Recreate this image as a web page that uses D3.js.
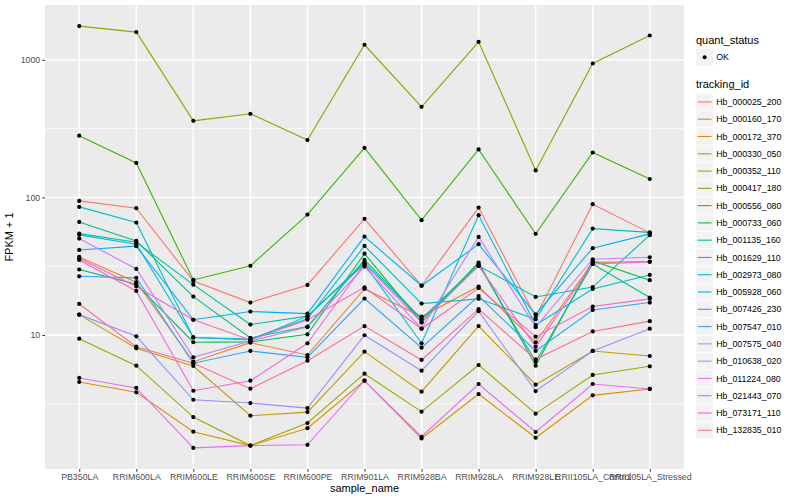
<!DOCTYPE html>
<html>
<head>
<meta charset="utf-8">
<script src="https://cdnjs.cloudflare.com/ajax/libs/d3/7.8.5/d3.min.js"></script>
<style>
  body { margin: 0; background: #fff; }
  svg { font-family: 'Liberation Sans', Arial, sans-serif; }
</style>
</head>
<body>
<svg id="chart" width="800" height="500"></svg>
<script>
'use strict';

var samples = ['PB350LA', 'RRIM600LA', 'RRIM600LE', 'RRIM600SE', 'RRIM600PE', 'RRIM901LA',
    'RRIM928BA', 'RRIM928LA', 'RRIM928LE', 'RRII105LA_Control', 'RRII105LA_Stressed'];

var trackingIds = ['Hb_000025_200', 'Hb_000160_170', 'Hb_000172_370', 'Hb_000330_050', 'Hb_000352_110',
    'Hb_000417_180', 'Hb_000556_080', 'Hb_000733_060', 'Hb_001135_160', 'Hb_001629_110',
    'Hb_002973_080', 'Hb_005928_060', 'Hb_007426_230', 'Hb_007547_010', 'Hb_007575_040',
    'Hb_010638_020', 'Hb_011224_080', 'Hb_021443_070', 'Hb_073171_110', 'Hb_132835_010'];

// FPKM + 1, one row per tracking_id, one value per sample
var fpkm = [
    [94.3, 83.4, 24.7, 17.2, 23.1, 69.8, 22.8, 84.3, 13.5, 89.2, 55.2],
    [36.9, 24.2, 6.39, 8.79, 7.15, 21.6, 13.6, 22.5, 8.85, 33.7, 34.1],
    [4.55, 3.83, 1.98, 1.57, 2.10, 4.65, 1.77, 3.72, 1.79, 3.64, 4.05],
    [14.05, 8.0, 5.95, 2.59, 2.75, 7.56, 3.87, 11.6, 4.35, 7.65, 7.03],
    [9.4, 5.98, 2.53, 1.57, 2.29, 5.23, 2.77, 6.05, 2.68, 5.12, 5.92],
    [1758, 1590, 360, 405, 261, 1286, 455, 1352, 157, 940, 1502],
    [281, 178, 25.1, 31.8, 75, 229, 68.3, 223, 54.3, 212, 136],
    [29.9, 23.4, 8.85, 8.9, 10.1, 39.0, 12.3, 33.6, 5.98, 34.5, 25.0],
    [66.3, 48.3, 19.0, 9.51, 11.5, 35.1, 13.1, 32.7, 6.39, 32.8, 18.7],
    [54.5, 47.2, 23.2, 11.9, 13.7, 33.6, 12.9, 31.8, 18.9, 22.3, 53.1],
    [85.3, 65.6, 9.59, 9.35, 13.1, 44.4, 16.9, 18.3, 13.0, 59.3, 55.7],
    [53.4, 45.7, 9.59, 9.19, 13.7, 32.7, 8.70, 74.2, 11.8, 21.6, 27.3],
    [41.5, 44.2, 12.9, 14.8, 14.3, 51.9, 22.8, 45.7, 14.1, 42.7, 54.3],
    [26.7, 26.0, 6.23, 7.65, 6.88, 18.4, 8.08, 19.2, 7.65, 15.2, 17.2],
    [14.05, 9.78, 3.38, 3.20, 2.94, 9.95, 5.50, 14.9, 3.91, 7.65, 11.1],
    [50.2, 30.2, 6.88, 9.04, 11.4, 31.4, 11.1, 51.6, 11.4, 35.5, 36.7],
    [4.87, 4.12, 1.51, 1.57, 1.59, 4.65, 1.82, 4.40, 1.97, 4.40, 4.05],
    [35.1, 20.9, 3.93, 4.65, 8.70, 32.8, 12.4, 31.8, 8.22, 32.8, 34.0],
    [36.1, 22.5, 12.9, 9.19, 12.9, 22.2, 11.1, 21.9, 9.72, 16.1, 18.3],
    [16.8, 8.22, 6.23, 4.07, 6.50, 11.6, 6.58, 15.4, 6.66, 10.6, 12.6]
];

var yMajor = [10, 100, 1000];
var yMinor = [Math.sqrt(10), Math.sqrt(1000), Math.sqrt(100000)];
var quantStatus = ['OK'];

// default ggplot hue palette for 20 levels
var huePalette = ['#F8766D', '#EA8331', '#D89000', '#C09B00', '#A3A500', '#7CAE00', '#39B600',
    '#00BB4E', '#00BF7D', '#00C1A3', '#00BFC4', '#00BAE0', '#00B0F6', '#35A2FF', '#9590FF',
    '#C77CFF', '#E76BF3', '#FA62DB', '#FF62BC', '#FF6C91'];

var panel = {left: 45, right: 684, top: 5, bottom: 469};

var svg = d3.select('#chart');

var colour = d3.scaleOrdinal()
    .domain(trackingIds)
    .range(huePalette);

var x = d3.scalePoint()
    .domain(samples)
    .range([panel.left, panel.right])
    .padding(0.6);

// log scale, expanded by 5% of the log range like ggplot
var allValues = d3.merge(fpkm);
var lo = Math.log10(d3.min(allValues)), hi = Math.log10(d3.max(allValues));
var pad = (hi - lo) * 0.05;
var y = d3.scaleLog()
    .domain([Math.pow(10, lo - pad), Math.pow(10, hi + pad)])
    .range([panel.bottom, panel.top]);

// panel + grid
svg.append('rect')
    .attr('x', panel.left).attr('y', panel.top)
    .attr('width', panel.right - panel.left).attr('height', panel.bottom - panel.top)
    .style('fill', '#EBEBEB');

svg.append('g').selectAll('line').data(yMinor.filter(function(v) { return v > y.domain()[0] && v < y.domain()[1]; }))
    .enter().append('line')
        .attr('x1', panel.left).attr('x2', panel.right)
        .attr('y1', function(d) { return y(d); }).attr('y2', function(d) { return y(d); })
        .style('stroke', '#fff').style('stroke-width', 0.7);

svg.append('g').selectAll('line').data(yMajor)
    .enter().append('line')
        .attr('x1', panel.left).attr('x2', panel.right)
        .attr('y1', function(d) { return y(d); }).attr('y2', function(d) { return y(d); })
        .style('stroke', '#fff').style('stroke-width', 1.4);

svg.append('g').selectAll('line').data(samples)
    .enter().append('line')
        .attr('x1', function(d) { return x(d); }).attr('x2', function(d) { return x(d); })
        .attr('y1', panel.top).attr('y2', panel.bottom)
        .style('stroke', '#fff').style('stroke-width', 1.4);

// axes
var xAxis = svg.append('g')
    .attr('transform', 'translate(0,' + panel.bottom + ')')
    .call(d3.axisBottom(x).tickSize(2.75).tickPadding(2));
var yAxis = svg.append('g')
    .attr('transform', 'translate(' + panel.left + ',0)')
    .call(d3.axisLeft(y).tickValues(yMajor).tickFormat(d3.format('d')).tickSize(2.75).tickPadding(2));

[xAxis, yAxis].forEach(function(axis) {
    axis.select('.domain').remove();
    axis.selectAll('.tick line').style('stroke', '#333333').style('stroke-width', 1);
    axis.selectAll('.tick text').style('fill', '#4D4D4D').style('font-size', '8.8px')
        .style('font-family', "'Liberation Sans', Arial, sans-serif");
});

svg.append('text')
    .attr('x', (panel.left + panel.right) / 2).attr('y', 492)
    .attr('text-anchor', 'middle')
    .style('font-size', '11px')
    .text('sample_name');

svg.append('text')
    .attr('transform', 'translate(13,' + (panel.top + panel.bottom) / 2 + ') rotate(-90)')
    .attr('text-anchor', 'middle')
    .style('font-size', '11px')
    .text('FPKM + 1');

// lines and points
var line = d3.line()
    .x(function(d, i) { return x(samples[i]); })
    .y(function(d) { return y(d); });

svg.append('g').selectAll('path').data(fpkm)
    .enter().append('path')
        .attr('d', line)
        .style('fill', 'none')
        .style('stroke', function(d, i) { return colour(trackingIds[i]); })
        .style('stroke-width', 1.1);

var points = [];
fpkm.forEach(function(row, j) {
    row.forEach(function(v, i) { points.push({sample: samples[i], value: v}); });
});

svg.append('g').selectAll('circle').data(points)
    .enter().append('circle')
        .attr('cx', function(d) { return x(d.sample); })
        .attr('cy', function(d) { return y(d.value); })
        .attr('r', 2.1)
        .style('fill', '#000');

// legends
var legendX = 696, keySize = 17.28;
var legend = svg.append('g');

legend.append('text')
    .attr('x', legendX).attr('y', 43.5)
    .style('font-size', '11px')
    .text('quant_status');

var qs = legend.selectAll('g.qs').data(quantStatus).enter().append('g')
    .classed('qs', true)
    .attr('transform', function(d, i) { return 'translate(' + legendX + ',' + (48.7 + i * keySize) + ')'; });
qs.append('rect').attr('width', keySize).attr('height', keySize).style('fill', '#F2F2F2');
qs.append('circle').attr('cx', keySize / 2).attr('cy', keySize / 2).attr('r', 2).style('fill', '#000');
qs.append('text').attr('x', keySize + 3).attr('y', keySize / 2 + 3.1)
    .style('font-size', '8.8px').text(function(d) { return d; });

legend.append('text')
    .attr('x', legendX).attr('y', 87.5)
    .style('font-size', '11px')
    .text('tracking_id');

var keys = legend.selectAll('g.tid').data(trackingIds).enter().append('g')
    .classed('tid', true)
    .attr('transform', function(d, i) { return 'translate(' + legendX + ',' + (93.3 + i * keySize) + ')'; });
keys.append('rect').attr('width', keySize).attr('height', keySize)
    .style('fill', '#F2F2F2').style('stroke', '#fff').style('stroke-width', 0.6);
keys.append('line')
    .attr('x1', 1.7).attr('x2', keySize - 1.7)
    .attr('y1', keySize / 2).attr('y2', keySize / 2)
    .style('stroke', function(d) { return colour(d); })
    .style('stroke-width', 1.1);
keys.append('text').attr('x', keySize + 3).attr('y', keySize / 2 + 3.1)
    .style('font-size', '8.8px').text(function(d) { return d; });
</script>
</body>
</html>
